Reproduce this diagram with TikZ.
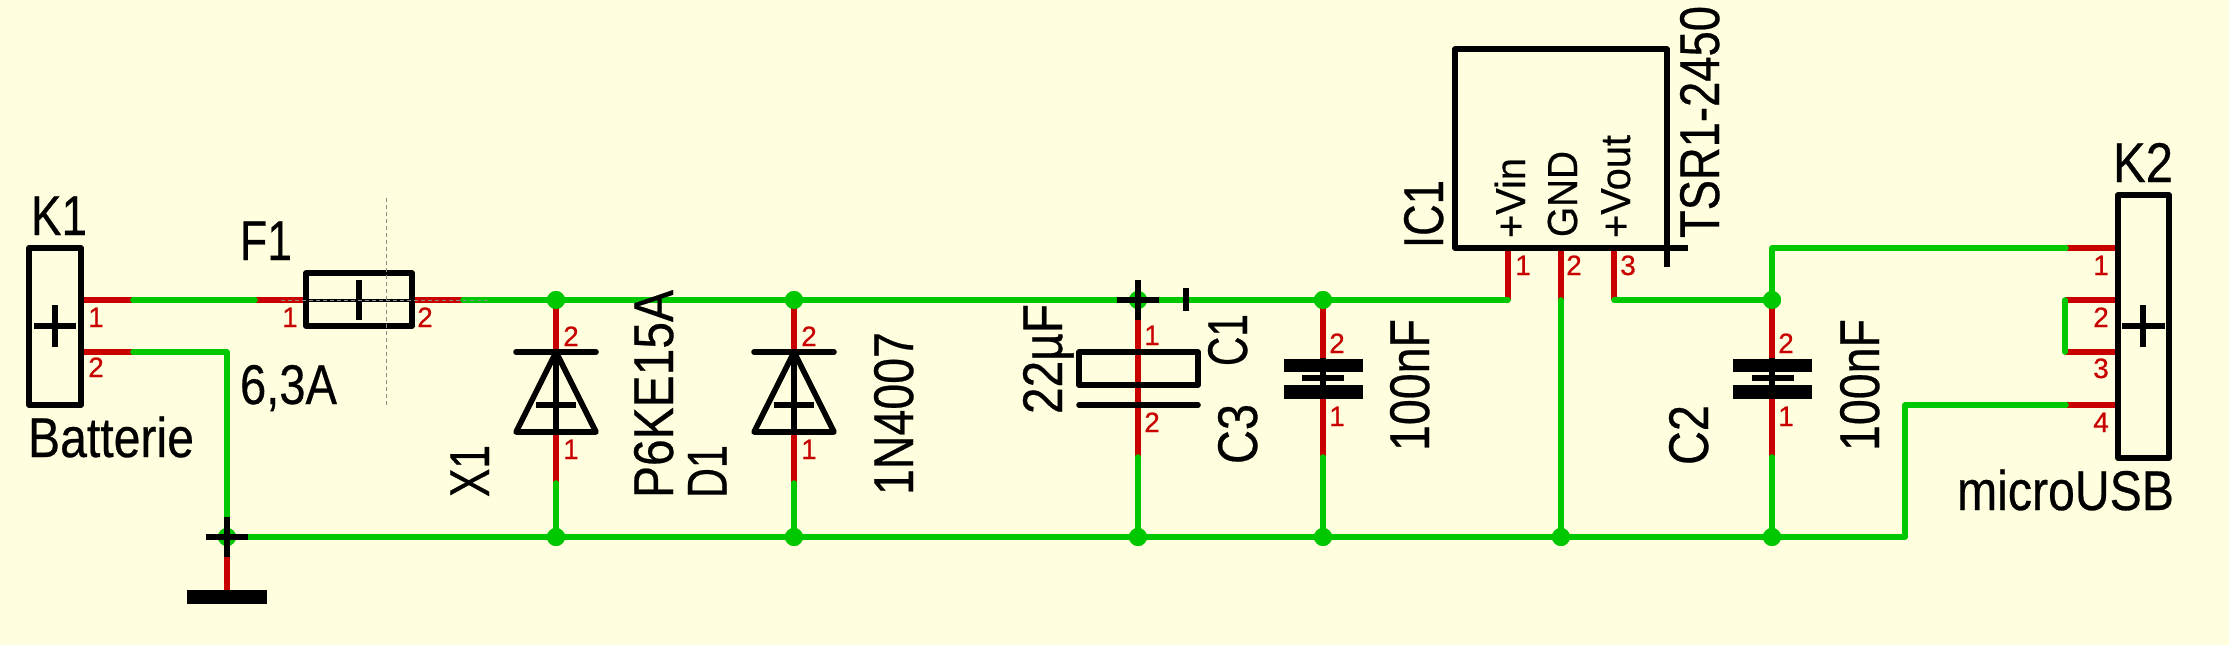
\documentclass[tikz,border=0pt]{standalone}
\usepackage{graphicx}
\usepackage{fontspec}
\setmainfont[FakeBold=0.5]{Liberation Sans}
\definecolor{bgc}{RGB}{255,255,224}
\definecolor{netg}{RGB}{0,200,0}
\definecolor{pinr}{RGB}{200,0,0}
\newcommand\fitw[2]{\resizebox{#1pt}{\height}{#2}}
\tikzset{
  wire/.style={draw=netg,line width=5.6pt,line cap=round,line join=round},
  pinl/.style={draw=pinr,line width=5.6pt},
  sym/.style={draw=black,line width=5.6pt,line join=round},
  guide/.style={draw=black!45,line width=.8pt,dash pattern=on 4pt off 3pt},
  junct/.style={circle,fill=netg,minimum size=18pt,inner sep=0pt,draw=none},
  lab/.style={inner sep=0pt,outer sep=0pt,anchor=base west,text=black,font=\fontsize{56}{56}\selectfont},
  vlab/.style={lab,rotate=90},
  vsmall/.style={vlab,font=\fontsize{42}{42}\selectfont},
  pnum/.style={inner sep=0pt,outer sep=0pt,anchor=base,text=pinr,font=\fontsize{28}{28}\selectfont},
}
\begin{document}
\begin{tikzpicture}[x=1pt,y=-1pt]
\useasboundingbox (0,0) rectangle (2229,645);
\fill[bgc] (0,0) rectangle (2229,645);
% named points
\coordinate (k1a) at (81,300); \coordinate (k1ae) at (133,300);
\coordinate (k1b) at (81,352); \coordinate (k1be) at (133,352);
\coordinate (f1ae) at (255,300); \coordinate (f1a) at (306,300);
\coordinate (f1b) at (412,300); \coordinate (f1be) at (463,300);
\coordinate (gndc) at (227,352); \coordinate (gndn) at (227,537); \coordinate (gndp) at (227,592);
\coordinate (icA) at (1508,248); \coordinate (icAe) at (1508,300);
\coordinate (icB) at (1561,248); \coordinate (icBe) at (1561,300);
\coordinate (icC) at (1614,248); \coordinate (icCe) at (1614,300);
\coordinate (k2a) at (2118,248); \coordinate (k2ae) at (2066,248);
\coordinate (k2b) at (2118,300); \coordinate (k2be) at (2065,300);
\coordinate (k2c) at (2118,352); \coordinate (k2ce) at (2065,352);
\coordinate (k2d) at (2118,405); \coordinate (k2de) at (2066,405);
\coordinate (c2top) at (1772,248); \coordinate (usbc) at (1905,405); \coordinate (usbb) at (1905,537);
\coordinate (c2mid) at (1772,457); \coordinate (c3mid) at (1323,457); \coordinate (c1mid) at (1138,457);
\coordinate (x1mid) at (556,483); \coordinate (d1mid) at (794,483);
% junctions
\node[junct] (jx1t) at (556,300) {}; \node[junct] (jd1t) at (794,300) {};
\node[junct] (jc1t) at (1138,300) {}; \node[junct] (jc3t) at (1323,300) {};
\node[junct] (jc2t) at (1772,300) {};
\node[junct] (jgnd) at (227,537) {};
\node[junct] (jx1b) at (556,537) {}; \node[junct] (jd1b) at (794,537) {};
\node[junct] (jc1b) at (1138,537) {}; \node[junct] (jc3b) at (1323,537) {};
\node[junct] (jicb) at (1561,537) {}; \node[junct] (jc2b) at (1772,537) {};
% pins
\draw[pinl] (k1a)--(k1ae); \draw[pinl] (k1b)--(k1be);
\draw[pinl] (f1ae)--(f1a); \draw[pinl] (f1b)--(f1be);
\draw[pinl] (jx1t.center)--(x1mid); \draw[pinl] (jd1t.center)--(d1mid);
\draw[pinl] (jc1t.center)--(c1mid); \draw[pinl] (jc3t.center)--(c3mid);
\draw[pinl] (jc2t.center)--(c2mid);
\draw[pinl] (icA)--(icAe); \draw[pinl] (icB)--(icBe); \draw[pinl] (icC)--(icCe);
\draw[pinl] (k2a)--(k2ae); \draw[pinl] (k2b)--(k2be); \draw[pinl] (k2c)--(k2ce); \draw[pinl] (k2d)--(k2de);
\draw[pinl] (gndn)--(gndp);
% wires
\draw[wire] (k1ae)--(f1ae);
\draw[wire] (k1be)--(gndc)--(jgnd.center)--(usbb)--(usbc)--(k2de);
\draw[wire] (f1be)--(icAe);
\draw[wire] (icCe)--(jc2t.center);
\draw[wire] (jc2t.center)--(c2top)--(k2ae);
\draw[wire] (k2be)--(k2ce);
\draw[wire] (icBe)--(jicb.center);
\draw[wire] (x1mid)--(jx1b.center); \draw[wire] (d1mid)--(jd1b.center);
\draw[wire] (c1mid)--(jc1b.center); \draw[wire] (c3mid)--(jc3b.center);
\draw[wire] (c2mid)--(jc2b.center);
% junction dots on top of the pins
\foreach \j in {jx1t,jd1t,jc1t,jc3t,jc2t,jgnd,jx1b,jd1b,jc1b,jc3b,jicb,jc2b}{\fill[netg] (\j) circle (9);}
% K1
\draw[sym] (29,248) rectangle (81,405);
\draw[sym] (34,326)--(76,326); \draw[sym] (55,305)--(55,347);
% F1
\draw[sym] (306,273) rectangle (412,326);
\draw[draw=black,line width=3pt] (306,300)--(412,300);
\draw[sym] (359,280)--(359,320);
\draw[guide] (386,198)--(386,405);
\draw[guide] (281,300)--(488,300);
% ground
\draw[sym] (206,537)--(248,537); \draw[sym] (227,517)--(227,557);
\fill[black] (187,590) rectangle (267,604);
% diodes
\foreach \x in {556,794}{
  \draw[sym,line cap=round] (\x-40,352)--(\x+40,352);
  \draw[sym] (\x,352)--(\x+40,432)--(\x-40,432)--cycle;
  \draw[sym] (\x,352)--(\x,432);
  \draw[sym] (\x-20,405)--(\x+20,405);
}
% C1 (polarised)
\draw[sym] (1117,300)--(1159,300); \draw[sym] (1138,280)--(1138,320);
\draw[sym] (1186,288)--(1186,311);
\draw[sym] (1079,352) rectangle (1198,385);
\draw[sym,line cap=round] (1079,405)--(1198,405);
% C3, C2 ceramic
\fill[black] (1284,359) rectangle (1363,372);
\fill[black] (1284,385) rectangle (1363,399);
\draw[sym] (1302,378)--(1344,378); \draw[sym] (1323,358)--(1323,399);
\fill[black] (1733,359) rectangle (1812,372);
\fill[black] (1733,385) rectangle (1812,399);
\draw[sym] (1752,378)--(1794,378); \draw[sym] (1772,358)--(1772,399);
% IC1
\draw[sym] (1455,49) rectangle (1667,248);
\draw[sym] (1646,248)--(1688,248); \draw[sym] (1667,228)--(1667,267);
% K2
\draw[sym] (2118,195) rectangle (2169,458);
\draw[sym] (2122,326)--(2165,326); \draw[sym] (2143,305)--(2143,347);
% labels
\node[lab] (tK1) at (31,235) {\fitw{56}{K1}};
\node[lab] (tF1) at (240,260) {\fitw{52}{F1}};
\node[lab] (tfv) at (240,404) {\fitw{97}{6,3A}};
\node[lab] (tbat) at (28,457) {\fitw{166}{Batterie}};
\node[vlab] (tX1) at (489,497) {\fitw{52}{X1}};
\node[vlab] (tP6) at (673,498) {\fitw{208}{P6KE15A}};
\node[vlab] (tD1) at (726.5,498) {\fitw{53}{D1}};
\node[vlab] (t1N) at (913,495) {\fitw{163}{1N4007}};
\node[vlab] (t22) at (1062,414) {\fitw{110}{22µF}};
\node[vlab] (tC1) at (1247,366) {\fitw{52}{C1}};
\node[vlab] (tC3) at (1257,464) {\fitw{60}{C3}};
\node[vlab] (t10a) at (1429,451) {\fitw{132}{100nF}};
\node[vlab] (tIC) at (1443,248) {\fitw{68}{IC1}};
\node[vsmall] (tvin) at (1525,238) {\fitw{80}{+Vin}};
\node[vsmall] (tgnd) at (1577,237) {\fitw{86}{GND}};
\node[vsmall] (tvout) at (1630,238) {\fitw{103}{+Vout}};
\node[vlab] (tTSR) at (1719,238) {\fitw{232}{TSR1-2450}};
\node[vlab] (tC2) at (1708,465) {\fitw{60}{C2}};
\node[vlab] (t10b) at (1879,451) {\fitw{132}{100nF}};
\node[lab] (tK2) at (2113,182) {\fitw{60}{K2}};
\node[lab] (tusb) at (1957,510) {\fitw{217}{microUSB}};
% pin numbers
\node[pnum] (p1) at (96,327) {1}; \node[pnum] (p2) at (96,377) {2};
\node[pnum] (p3) at (290,327) {1}; \node[pnum] (p4) at (425,327) {2};
\node[pnum] (p5) at (571,346) {2}; \node[pnum] (p6) at (571,459) {1};
\node[pnum] (p7) at (809,346) {2}; \node[pnum] (p8) at (809,459) {1};
\node[pnum] (p9) at (1152,345) {1}; \node[pnum] (p10) at (1152,432) {2};
\node[pnum] (p11) at (1337,353) {2}; \node[pnum] (p12) at (1337,426) {1};
\node[pnum] (p13) at (1786,353) {2}; \node[pnum] (p14) at (1786,426) {1};
\node[pnum] (p15) at (1523,275) {1}; \node[pnum] (p16) at (1574,275) {2}; \node[pnum] (p17) at (1628,275) {3};
\node[pnum] (p18) at (2101,275) {1}; \node[pnum] (p19) at (2101,327) {2};
\node[pnum] (p20) at (2101,378) {3}; \node[pnum] (p21) at (2101,432) {4};
\end{tikzpicture}
\end{document}
